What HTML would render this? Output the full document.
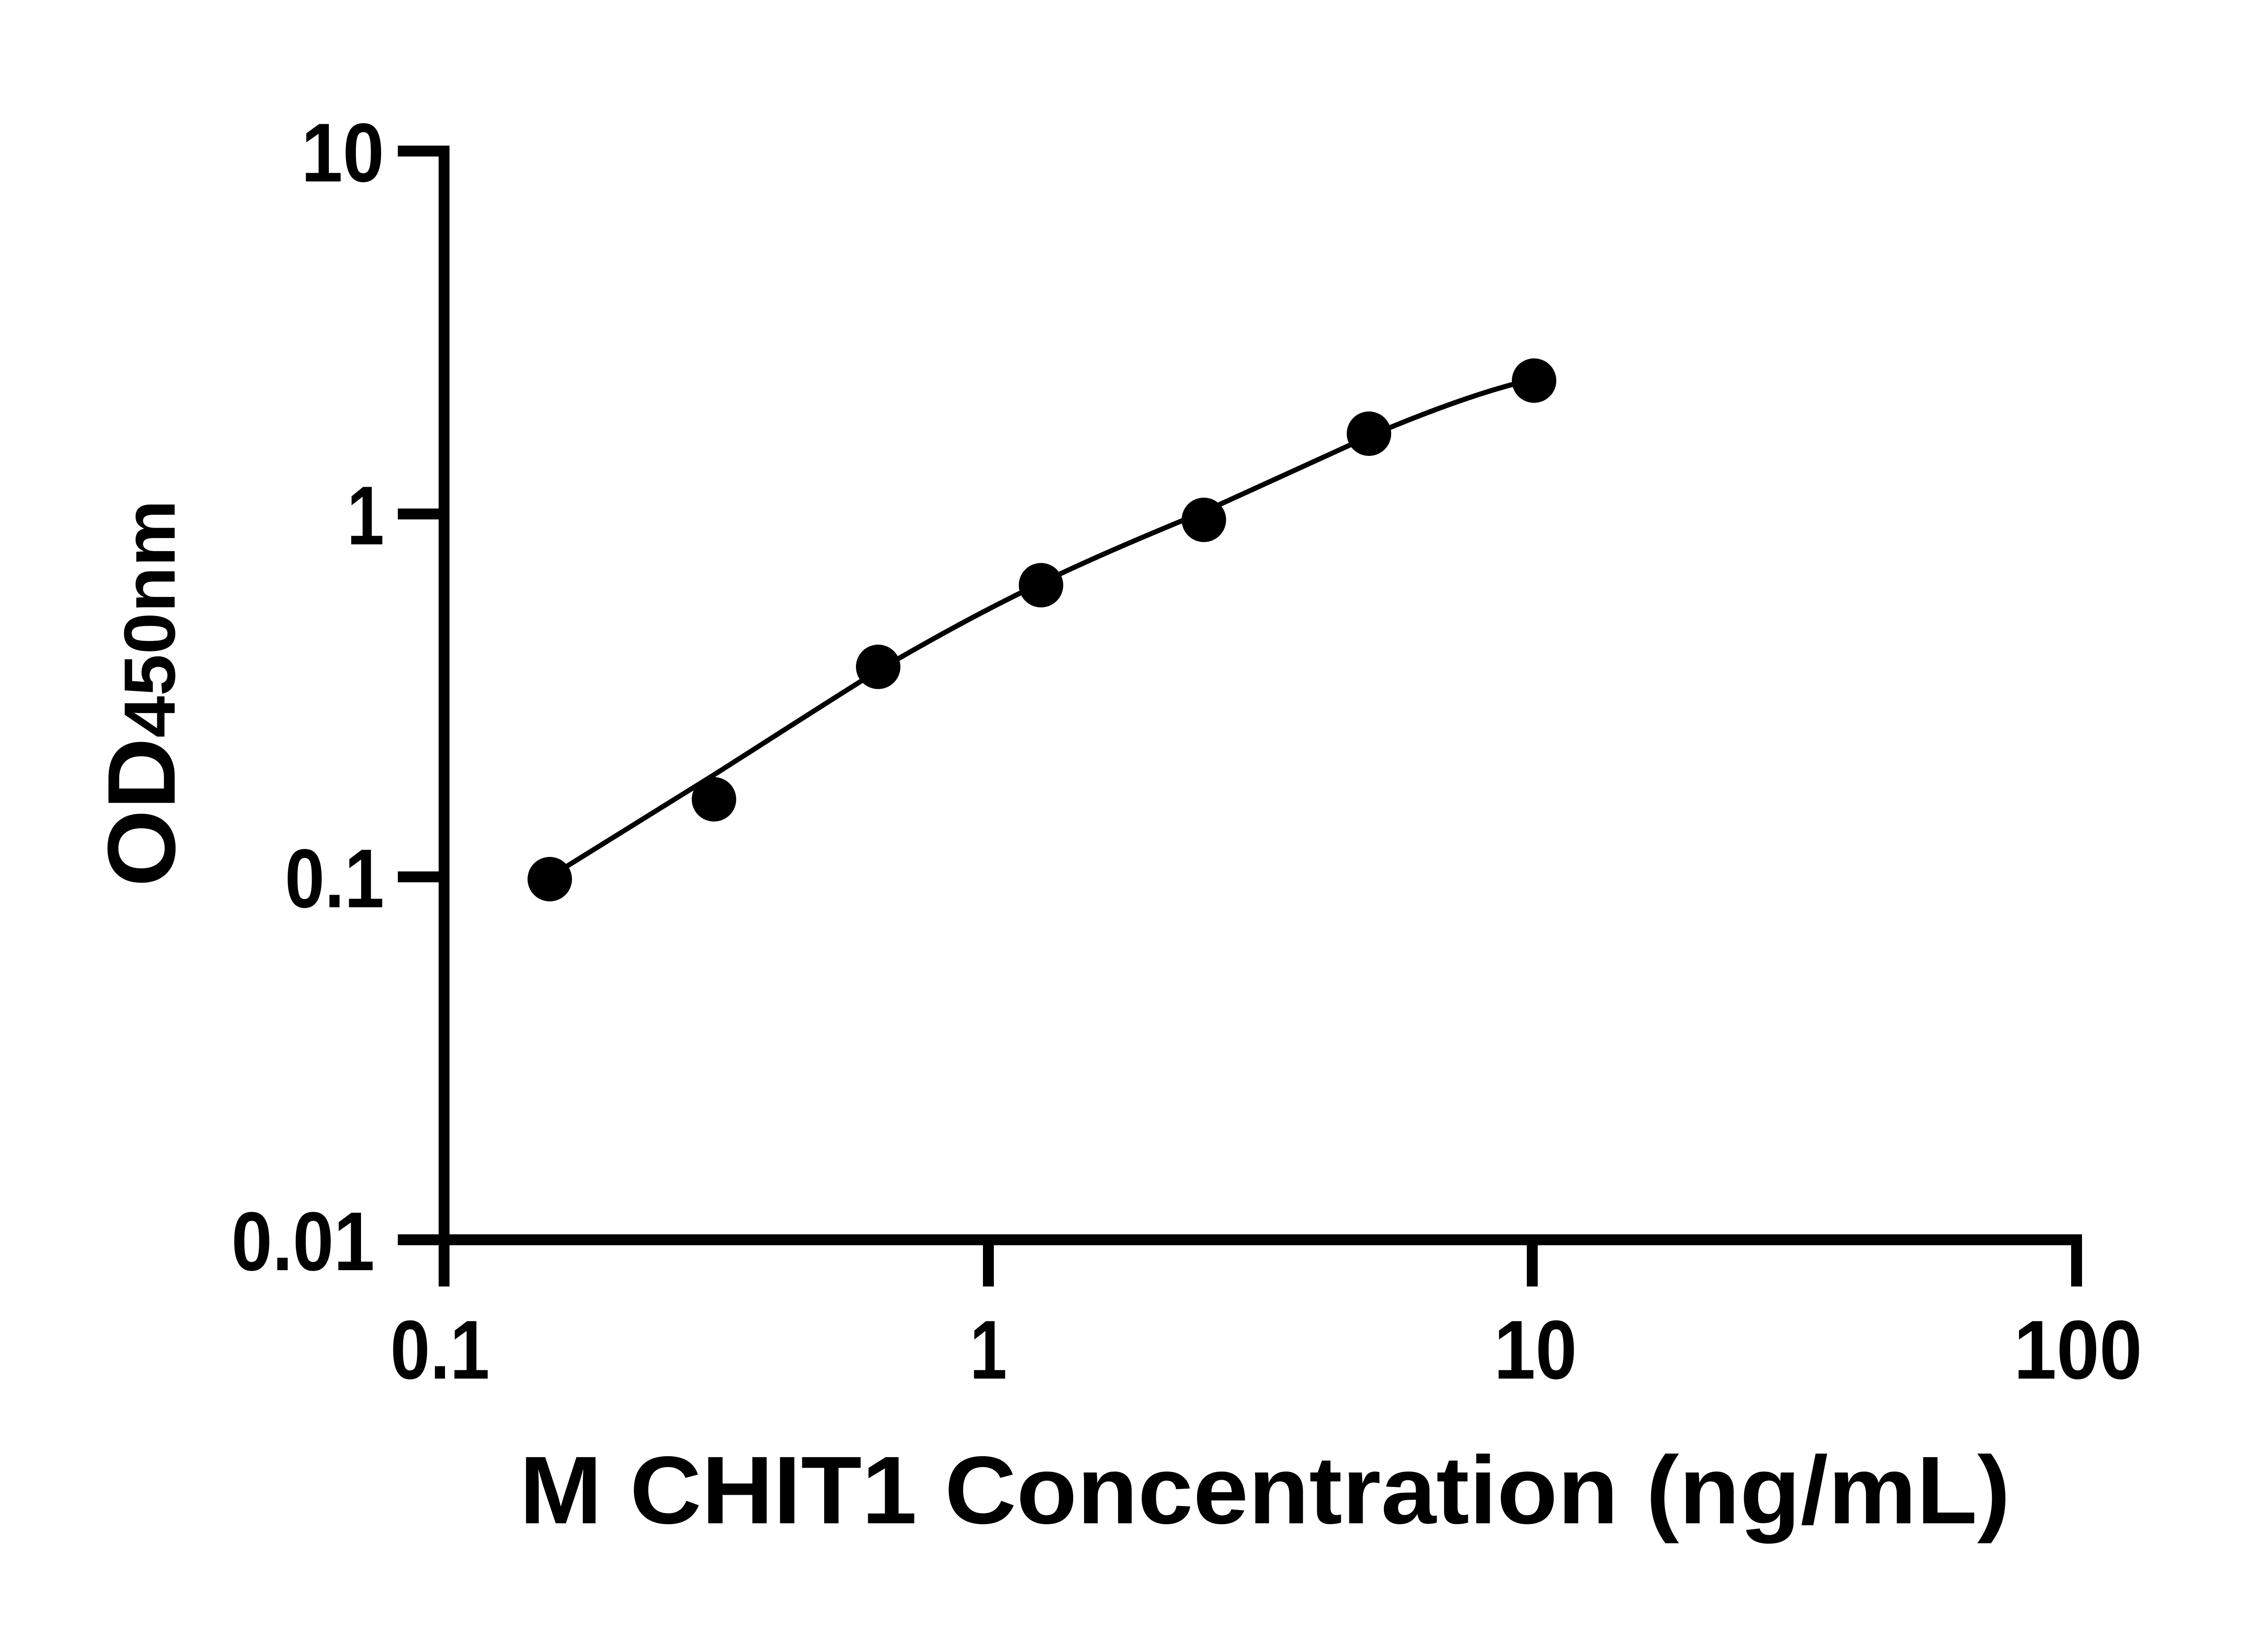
<!DOCTYPE html>
<html><head><style>html,body{margin:0;padding:0;background:#fff}svg{display:block}</style></head>
<body>
<svg width="5138" height="3591" viewBox="0 0 5138 3591" xmlns="http://www.w3.org/2000/svg" font-family="Liberation Sans, sans-serif" font-weight="bold">
<g stroke="#000" stroke-width="24" fill="none" stroke-linecap="butt">
<path d="M877 333 L979 333 L979 2836"/>
<path d="M877 2733 L4578 2733 L4578 2836"/>
<line x1="877" y1="1133" x2="979" y2="1133"/>
<line x1="877" y1="1933" x2="979" y2="1933"/>
<line x1="2179" y1="2733" x2="2179" y2="2836"/>
<line x1="3378" y1="2733" x2="3378" y2="2836"/>
</g>
<path d="M1225 1925 L1574 1708 C1700 1628 1820 1550 1936 1478 C2060 1405 2180 1340 2295 1285 C2420 1225 2540 1175 2654 1128 C2780 1070 2900 1015 3018 962 C3140 910 3250 870 3340 846" stroke="#000" stroke-width="11" fill="none"/>
<g fill="#000">
<circle cx="1212" cy="1938" r="49"/>
<circle cx="1574" cy="1762" r="49"/>
<circle cx="1936" cy="1470" r="49"/>
<circle cx="2295" cy="1290" r="49"/>
<circle cx="2654" cy="1146" r="49"/>
<circle cx="3018" cy="956" r="49"/>
<circle cx="3382" cy="839" r="49"/>
</g>
<g font-size="184" text-anchor="end">
<text x="847" y="400" textLength="183" lengthAdjust="spacingAndGlyphs">10</text>
<text x="847" y="1200" textLength="82" lengthAdjust="spacingAndGlyphs">1</text>
<text x="847" y="2000" textLength="219" lengthAdjust="spacingAndGlyphs">0.1</text>
<text x="826" y="2800" textLength="316" lengthAdjust="spacingAndGlyphs">0.01</text>
</g>
<g font-size="184" text-anchor="middle">
<text x="970" y="3039" textLength="219" lengthAdjust="spacingAndGlyphs">0.1</text>
<text x="2179" y="3039" textLength="82" lengthAdjust="spacingAndGlyphs">1</text>
<text x="3385" y="3039" textLength="183" lengthAdjust="spacingAndGlyphs">10</text>
<text x="4581" y="3039" textLength="283" lengthAdjust="spacingAndGlyphs">100</text>
</g>
<text x="1145" y="3358" font-size="212" textLength="3287" lengthAdjust="spacingAndGlyphs">M CHIT1 Concentration (ng/mL)</text>
<text transform="translate(385,1955) rotate(-90)" font-size="212" textLength="853" lengthAdjust="spacingAndGlyphs">OD<tspan font-size="160">450nm</tspan></text>
</svg>
</body></html>
